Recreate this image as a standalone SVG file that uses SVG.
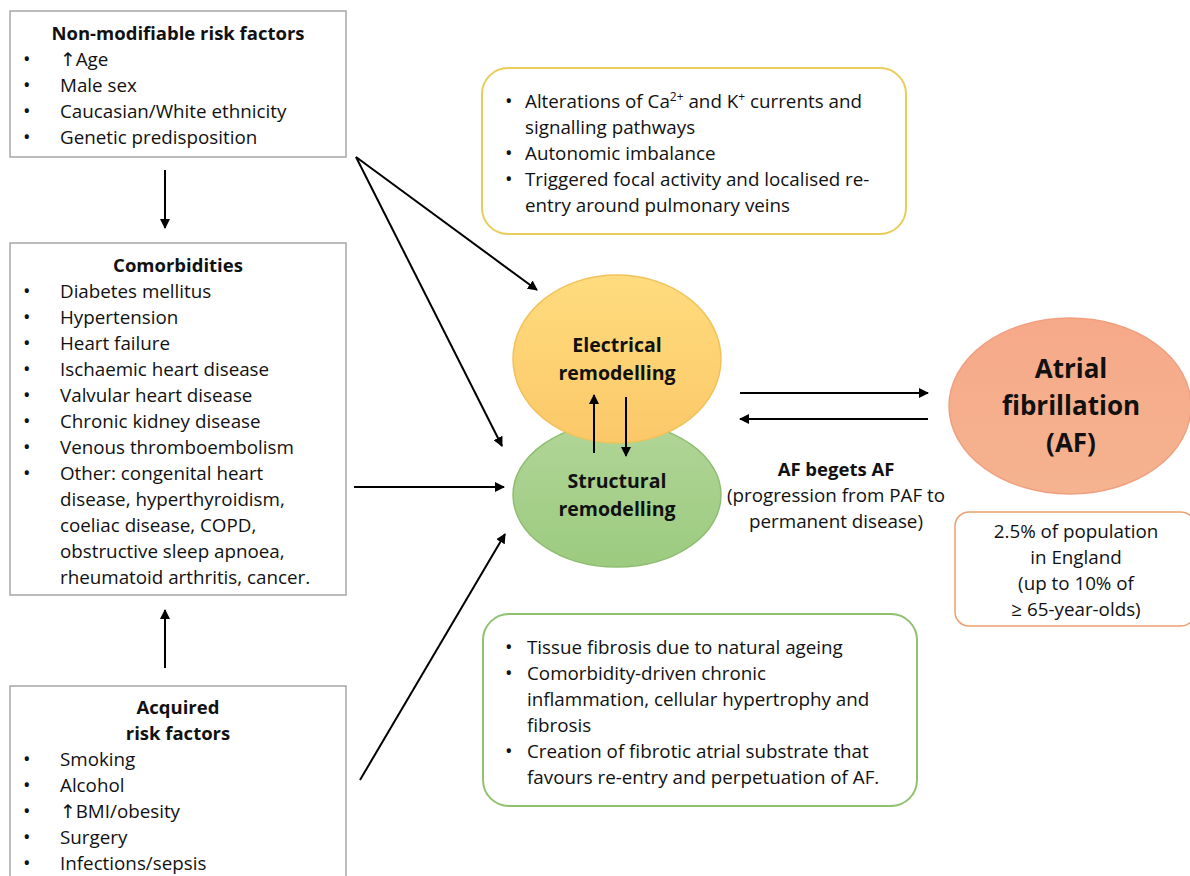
<svg xmlns="http://www.w3.org/2000/svg" width="1190" height="876" viewBox="0 0 1190 876">
<defs>
<marker id="ah" viewBox="0 0 10 10" refX="9" refY="5" markerWidth="10" markerHeight="10" markerUnits="userSpaceOnUse" orient="auto"><path d="M0,0 L10,5 L0,10 z" fill="#000"/></marker>
<linearGradient id="gOr" x1="0" y1="0" x2="0" y2="1"><stop offset="0" stop-color="#ffdc7e"/><stop offset="1" stop-color="#fbc868"/></linearGradient>
<linearGradient id="gGr" x1="0" y1="0" x2="0" y2="1"><stop offset="0" stop-color="#b1d597"/><stop offset="1" stop-color="#9ccb7f"/></linearGradient>
<linearGradient id="gAF" x1="0" y1="0" x2="0" y2="1"><stop offset="0" stop-color="#f6a989"/><stop offset="1" stop-color="#f5b38f"/></linearGradient>
</defs>
<style>
text{font-family:"Open Sans","DejaVu Sans",sans-serif;font-size:18.8px;fill:#111}
.b{font-weight:bold}
.c{text-anchor:middle}
.t{font-size:18.5px}
.bu{font-size:20px}
.sup{font-size:12px}
.e{font-size:19.5px}
.af{font-size:26px}
.box{fill:#fff;stroke:#a6a6a6;stroke-width:1.5}
.conn line{stroke:#000;stroke-width:2;marker-end:url(#ah)}
</style>
<rect width="1190" height="876" fill="#fff"/>

<g id="nonmod">
<rect class="box" x="10" y="11" width="336" height="146"/>
<text class="b c t" x="178" y="40">Non-modifiable risk factors</text>
<text class="bu" x="23" y="66">•</text><text x="60" y="66">↑Age</text>
<text class="bu" x="23" y="92">•</text><text x="60" y="92">Male sex</text>
<text class="bu" x="23" y="118">•</text><text x="60" y="118">Caucasian/White ethnicity</text>
<text class="bu" x="23" y="144">•</text><text x="60" y="144">Genetic predisposition</text>
</g>

<g id="comorb">
<rect class="box" x="10" y="243" width="336" height="352"/>
<text class="b c t" x="178" y="272">Comorbidities</text>
<text class="bu" x="23" y="298">•</text><text x="60" y="298">Diabetes mellitus</text>
<text class="bu" x="23" y="324">•</text><text x="60" y="324">Hypertension</text>
<text class="bu" x="23" y="350">•</text><text x="60" y="350">Heart failure</text>
<text class="bu" x="23" y="376">•</text><text x="60" y="376">Ischaemic heart disease</text>
<text class="bu" x="23" y="402">•</text><text x="60" y="402">Valvular heart disease</text>
<text class="bu" x="23" y="428">•</text><text x="60" y="428">Chronic kidney disease</text>
<text class="bu" x="23" y="454">•</text><text x="60" y="454">Venous thromboembolism</text>
<text class="bu" x="23" y="480">•</text><text x="60" y="480">Other: congenital heart</text>
<text x="60" y="506">disease, hyperthyroidism,</text>
<text x="60" y="532">coeliac disease, COPD,</text>
<text x="60" y="558">obstructive sleep apnoea,</text>
<text x="60" y="584">rheumatoid arthritis, cancer.</text>
</g>

<g id="acquired">
<rect class="box" x="10" y="686" width="336" height="200"/>
<text class="b c t" x="178" y="714">Acquired</text>
<text class="b c t" x="178" y="740">risk factors</text>
<text class="bu" x="23" y="766">•</text><text x="60" y="766">Smoking</text>
<text class="bu" x="23" y="792">•</text><text x="60" y="792">Alcohol</text>
<text class="bu" x="23" y="818">•</text><text x="60" y="818">↑BMI/obesity</text>
<text class="bu" x="23" y="844">•</text><text x="60" y="844">Surgery</text>
<text class="bu" x="23" y="870">•</text><text x="60" y="870">Infections/sepsis</text>
</g>

<g id="electrical-box">
<rect x="482" y="68" width="424" height="166" rx="26" fill="#fff" stroke="#e8cd5a" stroke-width="2"/>
<text class="bu" x="505" y="108">•</text><text x="525" y="108">Alterations of Ca<tspan class="sup" dy="-7">2+</tspan><tspan dy="7"> and K</tspan><tspan class="sup" dy="-7">+</tspan><tspan dy="7"> currents and</tspan></text>
<text x="525" y="134">signalling pathways</text>
<text class="bu" x="505" y="160">•</text><text x="525" y="160">Autonomic imbalance</text>
<text class="bu" x="505" y="186">•</text><text x="525" y="186">Triggered focal activity and localised re-</text>
<text x="525" y="212">entry around pulmonary veins</text>
</g>

<g id="structural-box">
<rect x="483" y="614" width="434" height="192" rx="26" fill="#fff" stroke="#8fc16f" stroke-width="2"/>
<text class="bu" x="505" y="654">•</text><text x="527" y="654">Tissue fibrosis due to natural ageing</text>
<text class="bu" x="505" y="680">•</text><text x="527" y="680">Comorbidity-driven chronic</text>
<text x="527" y="706">inflammation, cellular hypertrophy and</text>
<text x="527" y="732">fibrosis</text>
<text class="bu" x="505" y="758">•</text><text x="527" y="758">Creation of fibrotic atrial substrate that</text>
<text x="527" y="784">favours re-entry and perpetuation of AF.</text>
</g>

<g id="structural">
<ellipse cx="617" cy="495" rx="104" ry="72" fill="url(#gGr)" stroke="#8fbd72" stroke-width="1.5"/>
<text class="b c e" x="617" y="488">Structural</text>
<text class="b c e" x="617" y="516">remodelling</text>
</g>

<g id="electrical">
<ellipse cx="617" cy="359" rx="104" ry="84" fill="url(#gOr)" stroke="#f2c25a" stroke-width="1.5"/>
<text class="b c e" x="617" y="352">Electrical</text>
<text class="b c e" x="617" y="380">remodelling</text>
</g>

<g id="af">
<ellipse cx="1070" cy="406" rx="121" ry="88" fill="url(#gAF)" stroke="#f0a080" stroke-width="1.5"/>
<text class="b c af" x="1071" y="378">Atrial</text>
<text class="b c af" x="1071" y="415">fibrillation</text>
<text class="b c af" x="1071" y="452">(AF)</text>
</g>

<g id="afbegets">
<text class="b c t" x="836" y="476">AF begets AF</text>
<text class="c" x="836" y="502">(progression from PAF to</text>
<text class="c" x="836" y="528">permanent disease)</text>
</g>

<g id="prevalence">
<rect x="955" y="512" width="240" height="114" rx="14" fill="#fff" stroke="#eba06f" stroke-width="1.5"/>
<text class="c" x="1076" y="538">2.5% of population</text>
<text class="c" x="1076" y="564">in England</text>
<text class="c" x="1076" y="590">(up to 10% of</text>
<text class="c" x="1076" y="616">≥ 65-year-olds)</text>
</g>

<g id="connectors" class="conn">
<line x1="165" y1="170" x2="165" y2="228"/>
<line x1="165" y1="668" x2="165" y2="610"/>
<line x1="356" y1="157" x2="537" y2="290"/>
<line x1="356" y1="157" x2="502" y2="446"/>
<line x1="354" y1="487" x2="504" y2="487"/>
<line x1="360" y1="780" x2="505" y2="534"/>
<line x1="594" y1="453" x2="594" y2="395"/>
<line x1="626" y1="397" x2="626" y2="456"/>
<line x1="740" y1="393" x2="928" y2="393"/>
<line x1="928" y1="419" x2="740" y2="419"/>
</g>
</svg>
